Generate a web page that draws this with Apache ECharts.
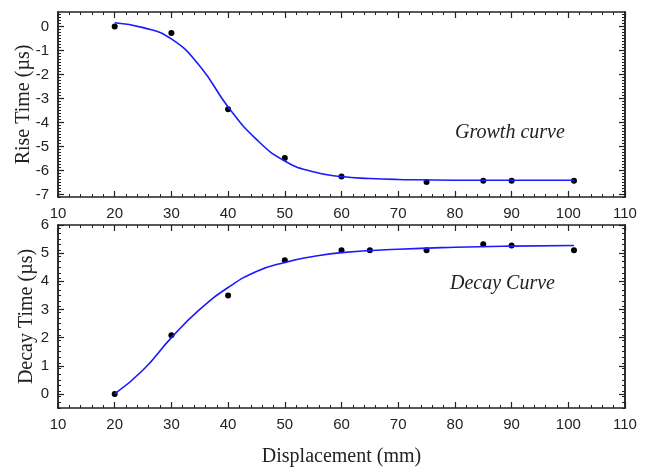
<!DOCTYPE html>
<html>
<head>
<meta charset="utf-8">
<script src="https://cdn.jsdelivr.net/npm/echarts@6/dist/echarts.min.js"></script>
<style>
  html, body { margin: 0; padding: 0; background: #fff; }
  #chart { width: 650px; height: 468px; }
</style>
</head>
<body>
<div id="chart"></div>
<script>
// x axis ticks (mm)
const xTicks = [10, 20, 30, 40, 50, 60, 70, 80, 90, 100, 110];

// rise time panel
const riseTicks = [-7, -6, -5, -4, -3, -2, -1, 0];
const riseX = [20, 30, 40, 50, 60, 75, 85, 90, 101];
const riseY = [0, -0.27, -3.45, -5.48, -6.25, -6.48, -6.42, -6.42, -6.42];
const riseFitX = [20, 25, 30, 35, 40, 45, 50, 55, 60, 65, 70, 80, 90, 101];
const riseFitY = [0.15, -0.05, -0.52, -1.65, -3.35, -4.7, -5.6, -6.05, -6.25, -6.33, -6.37, -6.4, -6.4, -6.4];

// decay time panel
const decayTicks = [0, 1, 2, 3, 4, 5, 6];
const decayX = [20, 30, 40, 50, 60, 65, 75, 85, 90, 101];
const decayY = [0, 2.08, 3.5, 4.75, 5.1, 5.1, 5.1, 5.32, 5.27, 5.1];
const decayFitX = [20, 25, 30, 35, 40, 45, 50, 55, 60, 70, 80, 90, 101];
const decayFitY = [0, 0.85, 2.0, 3.0, 3.78, 4.35, 4.67, 4.88, 5.02, 5.14, 5.21, 5.25, 5.27];

function zip(xs, ys) {
  return xs.map((x, i) => [x, ys[i]]);
}

function minorValues(from, to, step) {
  let out = [];
  let n = Math.round((to - from) / step);
  for (let i = 0; i <= n; i++) out.push(+(from + i * step).toFixed(4));
  return out;
}

const axisLine = { show: true, onZero: false, lineStyle: { color: "#222", width: 1.5 } };
const labelFont = { color: "#222", fontFamily: "Liberation Sans, Arial, sans-serif", fontSize: 15 };
const nameFont = { color: "#222", fontFamily: "Liberation Serif, Times New Roman, serif", fontSize: 20 };

function xAxes(gridIndex, name) {
  let base = {
    type: "value",
    gridIndex: gridIndex,
    min: xTicks[0],
    max: xTicks[xTicks.length - 1],
    interval: 10,
    axisLine: axisLine,
    axisTick: { show: true, inside: true, length: 6, lineStyle: { color: "#222", width: 1.2 } },
    minorTick: { show: true, splitNumber: 5, length: 3, lineStyle: { color: "#222", width: 1 } },
    splitLine: { show: false }
  };
  return [
    Object.assign({}, base, {
      position: "bottom",
      axisLabel: Object.assign({ margin: 9 }, labelFont),
      name: name,
      nameLocation: "middle",
      nameGap: 39,
      nameMoveOverlap: false,
      nameTextStyle: nameFont
    }),
    Object.assign({}, base, { position: "top", axisLabel: { show: false } })
  ];
}

function yAxes(gridIndex, min, max, ticks, minorStep, name, nameGap) {
  let minors = minorValues(min, max, minorStep);
  let common = {
    type: "value",
    gridIndex: gridIndex,
    min: min,
    max: max,
    axisLine: axisLine,
    splitLine: { show: false }
  };
  let major = {
    show: true,
    inside: true,
    length: 6,
    customValues: ticks,
    lineStyle: { color: "#222", width: 1.2 }
  };
  let minor = {
    show: true,
    inside: true,
    length: 3,
    customValues: minors,
    lineStyle: { color: "#222", width: 1 }
  };
  return [
    Object.assign({}, common, {
      position: "left",
      axisTick: major,
      axisLabel: Object.assign({ margin: 9, customValues: ticks }, labelFont),
      name: name,
      nameLocation: "middle",
      nameGap: nameGap,
      nameMoveOverlap: false,
      nameTextStyle: nameFont
    }),
    Object.assign({}, common, { position: "left", axisTick: minor, axisLabel: { show: false } }),
    Object.assign({}, common, { position: "right", axisTick: major, axisLabel: { show: false } }),
    Object.assign({}, common, { position: "right", axisTick: minor, axisLabel: { show: false } })
  ];
}

let chart = echarts.init(document.getElementById("chart"));

let option = {
  backgroundColor: "#fff",
  animation: false,
  grid: [
    { left: 58, right: 25, top: 12, height: 185 },
    { left: 58, right: 25, top: 225, height: 185 }
  ],
  xAxis: xAxes(0, "").concat(xAxes(1, "Displacement (mm)")),
  yAxis: yAxes(0, -7.1, 0.6, riseTicks, 0.125, "Rise Time (µs)", 24)
    .concat(yAxes(1, -0.5, 6, decayTicks, 0.2, "Decay Time (µs)", 21)),
  graphic: [
    {
      type: "text",
      left: 455,
      top: 123,
      style: { text: "Growth curve", fill: "#222", font: "italic 20px 'Liberation Serif', 'Times New Roman', serif" }
    },
    {
      type: "text",
      left: 450,
      top: 274,
      style: { text: "Decay Curve", fill: "#222", font: "italic 20px 'Liberation Serif', 'Times New Roman', serif" }
    }
  ],
  series: [
    {
      type: "line",
      xAxisIndex: 0,
      yAxisIndex: 0,
      data: zip(riseFitX, riseFitY),
      smooth: 0.5,
      showSymbol: false,
      lineStyle: { color: "#1a1aff", width: 1.6 }
    },
    {
      type: "scatter",
      xAxisIndex: 0,
      yAxisIndex: 0,
      data: zip(riseX, riseY),
      symbolSize: 6,
      itemStyle: { color: "#000", opacity: 1 }
    },
    {
      type: "line",
      xAxisIndex: 2,
      yAxisIndex: 4,
      data: zip(decayFitX, decayFitY),
      smooth: 0.5,
      showSymbol: false,
      lineStyle: { color: "#1a1aff", width: 1.6 }
    },
    {
      type: "scatter",
      xAxisIndex: 2,
      yAxisIndex: 4,
      data: zip(decayX, decayY),
      symbolSize: 6,
      itemStyle: { color: "#000", opacity: 1 }
    }
  ]
};

chart.setOption(option);
</script>
</body>
</html>
